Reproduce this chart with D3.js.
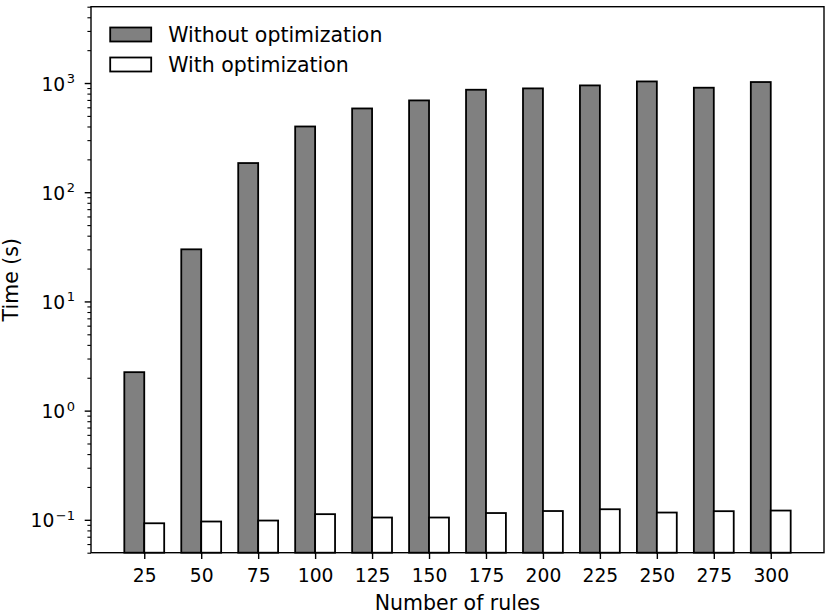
<!DOCTYPE html>
<html>

<head>
    <title>Time vs number of rules</title>
    <script src="https://cdn.jsdelivr.net/npm/d3@7"></script>
    <style>
        body { margin: 0; background: #fff; }
        text { font-family: "DejaVu Sans", sans-serif; fill: #000; }
    </style>
</head>

<body>
    <svg width="831" height="615" id="mainsvg"></svg>
    <script>
        // data
        const rules = [25, 50, 75, 100, 125, 150, 175, 200, 225, 250, 275, 300];
        const withoutOpt = [2.25, 30, 185, 400, 585, 693, 868, 893, 951, 1034, 906, 1021];
        const withOpt = [0.093, 0.0965, 0.0985, 0.1127, 0.105, 0.105, 0.1154, 0.1204, 0.125, 0.1166, 0.120, 0.1216];
        const seriesNames = ['Without optimization', 'With optimization'];
        const majorTicks = [0.1, 1, 10, 100, 1000];
        const tickExponents = ['\u22121', '0', '1', '2', '3'];

        const svg = d3.select('svg');
        const plotL = 91, plotR = 824, plotT = 6.7, plotB = 552.7;
        const barW = 0.35 * 25;
        const tickFont = 18.7, labelFont = 20.5;

        const x = d3.scaleLinear().domain([1.625, 323.375]).range([plotL, plotR]);
        const y = d3.scaleLog().domain([0.05, 5000]).range([plotB, plotT]);
        const bw = x(barW) - x(0);

        const g = svg.append('g');

        // bars
        g.selectAll('rect.without').data(rules).join('rect')
            .attr('class', 'without')
            .attr('x', d => x(d - barW))
            .attr('width', bw)
            .attr('y', (d, i) => y(withoutOpt[i]))
            .attr('height', (d, i) => plotB - y(withoutOpt[i]))
            .attr('fill', '#808080')
            .attr('stroke', '#000')
            .attr('stroke-width', 1.8);

        g.selectAll('rect.with').data(rules).join('rect')
            .attr('class', 'with')
            .attr('x', d => x(d))
            .attr('width', bw)
            .attr('y', (d, i) => y(withOpt[i]))
            .attr('height', (d, i) => plotB - y(withOpt[i]))
            .attr('fill', '#fff')
            .attr('stroke', '#000')
            .attr('stroke-width', 1.8);

        // frame
        svg.append('rect')
            .attr('x', plotL).attr('y', plotT)
            .attr('width', plotR - plotL).attr('height', plotB - plotT)
            .attr('fill', 'none').attr('stroke', '#000').attr('stroke-width', 1.4);

        // x axis
        const xAxis = svg.append('g')
            .attr('transform', `translate(0,${plotB})`)
            .call(d3.axisBottom(x).tickValues(rules).tickSize(6.3).tickPadding(10).tickFormat(d3.format('d')));
        xAxis.select('.domain').remove();
        xAxis.selectAll('line').attr('stroke-width', 1.4);
        xAxis.selectAll('text')
            .attr('font-size', tickFont)
            .attr('font-family', '"DejaVu Sans", sans-serif');

        // y axis: minor ticks
        const minors = [];
        for (let e = -2; e <= 3; e++) {
            for (let m = 2; m <= 9; m++) {
                const v = m * Math.pow(10, e);
                if (v >= 0.05 && v <= 5000) minors.push(v);
            }
        }
        const yMinor = svg.append('g')
            .attr('transform', `translate(${plotL},0)`)
            .call(d3.axisLeft(y).tickValues(minors).tickSize(3.6).tickFormat(''));
        yMinor.select('.domain').remove();
        yMinor.selectAll('line').attr('stroke-width', 1.1);

        const yMajor = svg.append('g')
            .attr('transform', `translate(${plotL},0)`)
            .call(d3.axisLeft(y).tickValues(majorTicks).tickSize(6.3).tickFormat(''));
        yMajor.select('.domain').remove();
        yMajor.selectAll('line').attr('stroke-width', 1.4);

        // y tick labels with superscripts
        const lab = svg.append('g').selectAll('text').data(majorTicks).join('text')
            .attr('x', 75)
            .attr('y', d => y(d) + 7.5)
            .attr('text-anchor', 'end')
            .attr('font-size', tickFont);
        lab.append('tspan').text('10');
        lab.append('tspan')
            .attr('dx', 1.5)
            .attr('dy', -7.5)
            .attr('font-size', 13)
            .text((d, i) => tickExponents[i]);

        // axis titles
        svg.append('text')
            .attr('x', (plotL + plotR) / 2)
            .attr('y', 610)
            .attr('text-anchor', 'middle')
            .attr('font-size', labelFont)
            .text('Number of rules');

        svg.append('text')
            .attr('transform', `translate(18,${(plotT + plotB) / 2}) rotate(-90)`)
            .attr('text-anchor', 'middle')
            .attr('font-size', labelFont)
            .text('Time (s)');

        // legend
        const fills = ['#808080', '#fff'];
        const leg = svg.append('g').selectAll('g').data(seriesNames).join('g')
            .attr('transform', (d, i) => `translate(110.2,${27.5 + i * 30})`);
        leg.append('rect')
            .attr('width', 41).attr('height', 14)
            .attr('fill', (d, i) => fills[i])
            .attr('stroke', '#000').attr('stroke-width', 1.8);
        leg.append('text')
            .attr('x', 58)
            .attr('y', 14)
            .attr('font-size', labelFont)
            .text(d => d);
    </script>
</body>

</html>
